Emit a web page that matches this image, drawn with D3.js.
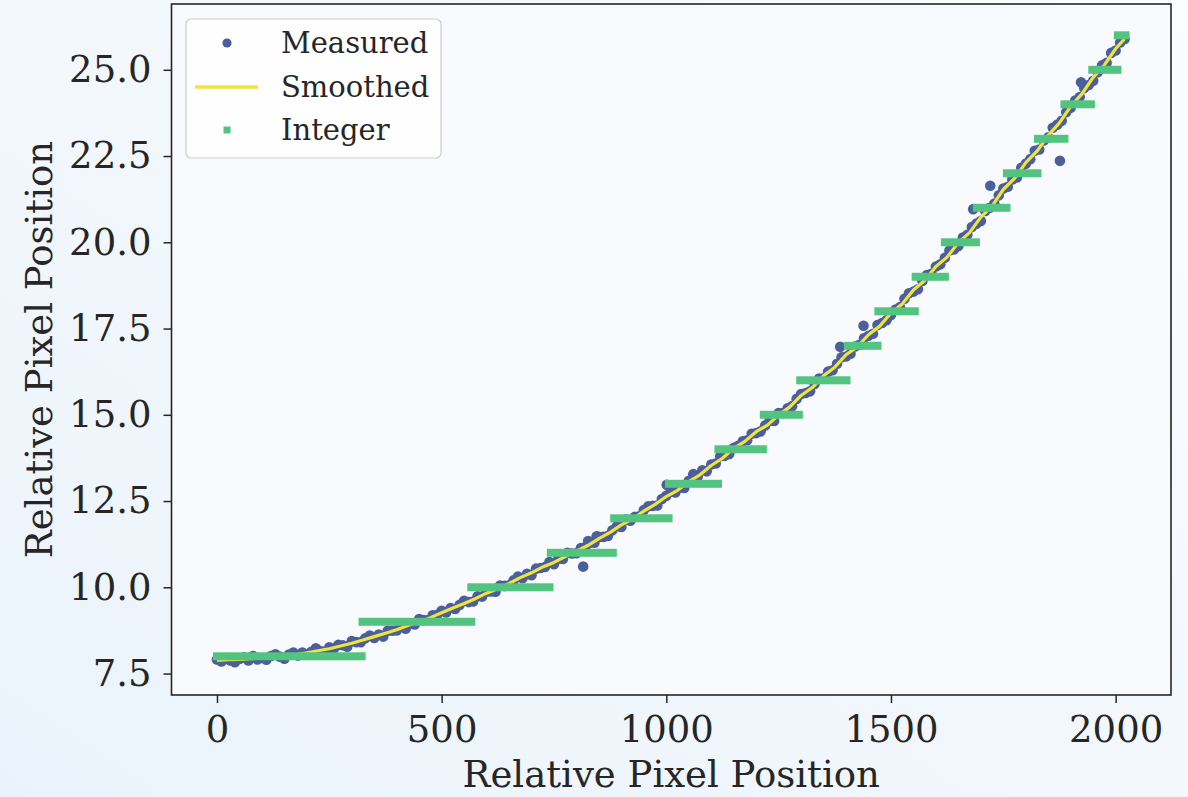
<!DOCTYPE html>
<html>
<head>
<meta charset="utf-8">
<script src="https://cdn.jsdelivr.net/npm/d3@7"></script>
<style>
  html, body { margin: 0; padding: 0; }
  body { width: 1188px; height: 797px; overflow: hidden; }
  svg text { font-family: "DejaVu Serif", serif; fill: #262626; }
</style>
</head>
<body>
<div id="chart"></div>
<script>
// measured samples, one every 10 px along the row (x = 0, 10, ... 2020)
var measuredY = [
  7.91, 7.85, 7.95, 7.88, 7.83, 7.92, 7.97, 7.88, 8.01, 7.91,
  7.95, 7.90, 8.01, 8.06, 7.99, 7.93, 8.05, 8.11, 8.02, 8.11,
  8.05, 8.13, 8.23, 8.15, 8.14, 8.26, 8.22, 8.33, 8.32, 8.28,
  8.44, 8.41, 8.41, 8.52, 8.60, 8.53, 8.63, 8.57, 8.74, 8.74,
  8.75, 8.88, 8.80, 8.95, 8.92, 9.08, 9.05, 9.05, 9.19, 9.20,
  9.32, 9.27, 9.40, 9.37, 9.49, 9.61, 9.57, 9.59, 9.74, 9.73,
  9.87, 9.88, 9.87, 10.05, 10.04, 10.06, 10.20, 10.31, 10.26, 10.39,
  10.35, 10.54, 10.56, 10.59, 10.73, 10.67, 10.83, 10.82, 11.00, 10.98,
  10.99, 11.14, 11.17, 11.29, 11.29, 11.46, 11.46, 11.49, 11.65, 11.77,
  11.75, 11.96, 11.93, 12.04, 12.06, 12.24, 12.35, 12.36, 12.37, 12.56,
  12.65, 12.77, 12.75, 12.89, 12.88, 13.09, 13.15, 13.21, 13.39, 13.36,
  13.56, 13.59, 13.80, 13.81, 13.86, 14.04, 14.10, 14.23, 14.26, 14.45,
  14.47, 14.52, 14.69, 14.83, 14.82, 15.05, 15.05, 15.19, 15.25, 15.46,
  15.60, 15.63, 15.68, 15.89, 16.05, 16.06, 16.25, 16.29, 16.48, 16.67,
  16.69, 16.77, 16.98, 17.03, 17.22, 17.29, 17.35, 17.60, 17.66, 17.74,
  17.89, 18.05, 18.12, 18.36, 18.52, 18.57, 18.64, 18.88, 19.05, 19.09,
  19.30, 19.36, 19.55, 19.76, 19.79, 19.89, 20.14, 20.22, 20.44, 20.54,
  20.62, 20.91, 21.00, 21.12, 21.36, 21.56, 21.61, 21.82, 21.88, 22.16,
  22.28, 22.41, 22.65, 22.69, 22.95, 23.04, 23.32, 23.41, 23.52, 23.77,
  23.90, 24.11, 24.21, 24.47, 24.56, 24.68, 24.93, 25.13, 25.20, 25.49,
  25.56, 25.79, 25.89
];
var measuredX = d3.range(0, 2021, 10);

// stray measured points off the band
var strayX = [815, 826, 845, 1001, 1060, 1387, 1439, 1683, 1721, 1876, 1923];
var strayY = [10.60, 11.34, 11.48, 12.97, 13.28, 16.97, 17.58, 20.96, 21.64, 22.36, 24.64];

// smoothed curve, every 25 px plus the last sample
var smoothX = d3.range(0, 2001, 25).concat([2020]);
var smoothY = [
  7.88, 7.90, 7.91, 7.93, 7.95, 7.98, 8.01, 8.05, 8.10, 8.16,
  8.22, 8.30, 8.38, 8.47, 8.57, 8.67, 8.77, 8.89, 9.00, 9.12,
  9.26, 9.40, 9.53, 9.67, 9.83, 9.96, 10.11, 10.28, 10.42, 10.59,
  10.72, 10.89, 11.05, 11.21, 11.41, 11.59, 11.81, 11.98, 12.21, 12.40,
  12.63, 12.81, 13.06, 13.26, 13.53, 13.74, 14.03, 14.23, 14.51, 14.70,
  14.99, 15.23, 15.56, 15.79, 16.13, 16.38, 16.74, 16.97, 17.32, 17.57,
  17.95, 18.21, 18.62, 18.89, 19.30, 19.57, 19.99, 20.28, 20.73, 21.05,
  21.53, 21.85, 22.31, 22.64, 23.10, 23.46, 23.94, 24.30, 24.78, 25.14,
  25.61, 25.90
];

// integer (rounded) position, one run per value
var intValue = [8, 9, 10, 11, 12, 13, 14, 15, 16, 17, 18, 19, 20, 21, 22, 23, 24, 25, 26];
var intStart = [0, 324, 566, 743, 884, 1006, 1116, 1217, 1298, 1404, 1472, 1555, 1620, 1691, 1758, 1827, 1886, 1948, 2005];
var intEnd   = [322, 566, 740, 881, 1005, 1115, 1215, 1295, 1401, 1470, 1553, 1620, 1689, 1757, 1826, 1886, 1945, 2004, 2022];

var xTicks = [0, 500, 1000, 1500, 2000];
var yTicks = [7.5, 10.0, 12.5, 15.0, 17.5, 20.0, 22.5, 25.0];

var W = 1188, H = 797,
    plot = { left: 171.5, right: 1171, top: 4, bottom: 695 },
    blue = "#4b5f9b", yellow = "#efe43a", green = "#52c47f",
    ink = "#262626", fontSize = 37;

var svg = d3.select("#chart").append("svg")
    .attr("width", W)
    .attr("height", H);

var defs = svg.append("defs");
var bg = defs.append("linearGradient")
    .attr("id", "bg")
    .attr("x1", "100%").attr("y1", "0%")
    .attr("x2", "0%").attr("y2", "100%");
bg.append("stop").attr("offset", "0%").attr("stop-color", "#fbfcfe");
bg.append("stop").attr("offset", "100%").attr("stop-color", "#eaf3fb");

svg.append("rect").attr("width", W).attr("height", H).attr("fill", "url(#bg)");
svg.append("rect")
    .attr("x", plot.left).attr("y", plot.top)
    .attr("width", plot.right - plot.left).attr("height", plot.bottom - plot.top)
    .attr("fill", "#f8fafd");

var x = d3.scaleLinear().domain([-101.2, 2123.2]).range([plot.left, plot.right]);
var y = d3.scaleLinear().domain([6.878, 26.907]).range([plot.bottom, plot.top]);

var g = svg.append("g");

// measured dots
var measured = measuredX.map(function(d, i) { return [d, measuredY[i]]; })
    .concat(strayX.map(function(d, i) { return [d, strayY[i]]; }));
g.append("g").selectAll("circle")
    .data(measured)
    .enter().append("circle")
    .attr("cx", function(d) { return x(d[0]); })
    .attr("cy", function(d) { return y(d[1]); })
    .attr("r", 5.3)
    .attr("fill", blue);

// smoothed line
var line = d3.line()
    .x(function(d, i) { return x(smoothX[i]); })
    .y(function(d) { return y(d); });
g.append("path")
    .datum(smoothY)
    .attr("d", line)
    .attr("fill", "none")
    .attr("stroke", yellow)
    .attr("stroke-width", 3.2)
    .attr("stroke-linejoin", "round");

// integer runs (square markers merge into bars)
var half = 4;
g.append("g").selectAll("rect")
    .data(intValue)
    .enter().append("rect")
    .attr("x", function(d, i) { return x(intStart[i]) - half; })
    .attr("y", function(d) { return y(d) - half; })
    .attr("width", function(d, i) { return x(intEnd[i]) - x(intStart[i]) + 2 * half; })
    .attr("height", 2 * half)
    .attr("fill", green);

// axes
var xAxis = d3.axisBottom(x).tickValues(xTicks).tickSize(8).tickPadding(13).tickSizeOuter(0)
    .tickFormat(d3.format("d"));
var yAxis = d3.axisLeft(y).tickValues(yTicks).tickSize(8).tickPadding(12).tickSizeOuter(0)
    .tickFormat(d3.format(".1f"));

svg.append("g")
    .attr("transform", "translate(0," + plot.bottom + ")")
    .call(xAxis);
svg.append("g")
    .attr("transform", "translate(" + plot.left + ",0)")
    .call(yAxis);

svg.selectAll(".tick line").attr("stroke", ink).attr("stroke-width", 1.5);
svg.selectAll(".tick text").attr("font-size", fontSize).style("font-family", "DejaVu Serif").attr("fill", ink);
svg.selectAll(".domain").remove();

svg.append("rect")
    .attr("x", plot.left).attr("y", plot.top)
    .attr("width", plot.right - plot.left).attr("height", plot.bottom - plot.top)
    .attr("fill", "none")
    .attr("stroke", ink)
    .attr("stroke-width", 1.6);

svg.append("text")
    .attr("x", (plot.left + plot.right) / 2)
    .attr("y", 787)
    .attr("text-anchor", "middle")
    .attr("font-size", fontSize)
    .text("Relative Pixel Position");

svg.append("text")
    .attr("transform", "translate(52," + ((plot.top + plot.bottom) / 2) + ") rotate(-90)")
    .attr("text-anchor", "middle")
    .attr("font-size", fontSize)
    .text("Relative Pixel Position");

// legend
var legend = svg.append("g");
legend.append("rect")
    .attr("x", 186).attr("y", 19)
    .attr("width", 255).attr("height", 139)
    .attr("rx", 5)
    .attr("fill", "#ffffff").attr("fill-opacity", 0.8)
    .attr("stroke", "#cccccc").attr("stroke-width", 1.2);

var items = ["Measured", "Smoothed", "Integer"];
var rowY = [43, 87, 130];
legend.append("circle").attr("cx", 227).attr("cy", rowY[0]).attr("r", 4.6).attr("fill", blue);
legend.append("line")
    .attr("x1", 195).attr("x2", 258)
    .attr("y1", rowY[1]).attr("y2", rowY[1])
    .attr("stroke", yellow).attr("stroke-width", 3.5);
legend.append("rect").attr("x", 223.5).attr("y", rowY[2] - 3.5).attr("width", 7).attr("height", 7).attr("fill", green);
legend.selectAll("text.item")
    .data(items)
    .enter().append("text")
    .attr("class", "item")
    .attr("x", 281)
    .attr("y", function(d, i) { return rowY[i]; })
    .attr("dy", "0.36em")
    .attr("font-size", 29)
    .text(function(d) { return d; });
</script>
</body>
</html>
